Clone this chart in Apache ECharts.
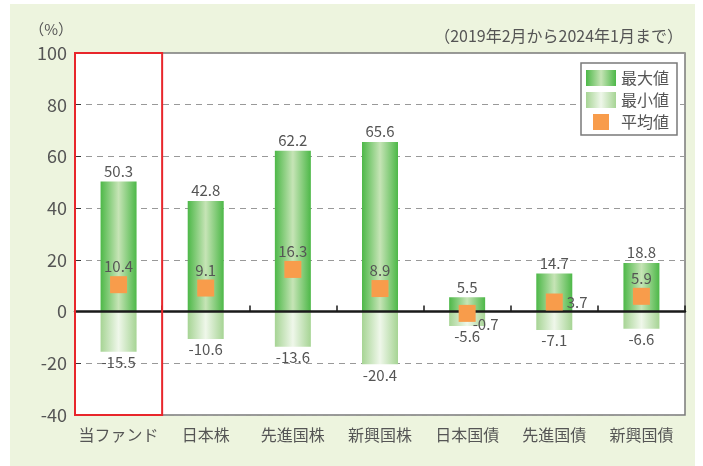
<!DOCTYPE html>
<html>
<head>
<meta charset="utf-8">
<script src="https://cdn.jsdelivr.net/npm/echarts@6/dist/echarts.min.js"></script>
<style>
html, body { margin: 0; padding: 0; background: #fff; }
#main { width: 703px; height: 466px; }
</style>
</head>
<body>
<div id="main"></div>
<script>
// 資産クラス
var categories = ["当ファンド", "日本株", "先進国株", "新興国株", "日本国債", "先進国債", "新興国債"];
// 騰落率（%）
var maxValues = [50.3, 42.8, 62.2, 65.6, 5.5, 14.7, 18.8];
var minValues = [-15.5, -10.6, -13.6, -20.4, -5.6, -7.1, -6.6];
var avgValues = [10.4, 9.1, 16.3, 8.9, -0.7, 3.7, 5.9];
var yTicks = [-40, -20, 0, 20, 40, 60, 80, 100];

var FONT = "'Noto Sans CJK JP', 'Noto Sans', sans-serif";
var TXT = '#555';

var chart = echarts.init(document.getElementById('main'));

// 最大値・最小値のグラデーション
var maxColor = new echarts.graphic.LinearGradient(0, 0, 1, 0, [
    { offset: 0, color: '#4db848' },
    { offset: 0.5, color: '#c6e4b6' },
    { offset: 1, color: '#4db848' }
]);
var minColor = new echarts.graphic.LinearGradient(0, 0, 1, 0, [
    { offset: 0, color: '#a6d494' },
    { offset: 0.5, color: '#eff7ea' },
    { offset: 1, color: '#a6d494' }
]);

// 平均値ラベルの位置（重なり回避）
var avgLabel = {
    4: { position: 'right', distance: -3, offset: [0, 11] },
    5: { position: 'right', distance: 4, offset: [0, 0] }
};
var avgData = avgValues.map(function (v, i) {
    var item = { value: [categories[i], v] };
    if (avgLabel[i]) item.label = avgLabel[i];
    return item;
});

var option = {
    backgroundColor: '#fff',
    textStyle: { fontFamily: FONT },
    animation: false,
    grid: {
        left: 75, right: 18, top: 53, bottom: 51,
        show: true,
        backgroundColor: '#fff',
        borderColor: '#7a7a7a',
        borderWidth: 1.5
    },
    legend: {
        orient: 'vertical',
        left: 581, top: 63,
        padding: [7, 8, 5, 5],
        itemWidth: 30, itemHeight: 16, itemGap: 6,
        backgroundColor: '#fff',
        borderColor: '#7a7a7a',
        borderWidth: 1.5,
        borderRadius: 0,
        selectedMode: false,
        textStyle: { fontSize: 16, color: TXT, fontFamily: FONT },
        data: [
            { name: '最大値', icon: 'rect' },
            { name: '最小値', icon: 'rect' },
            { name: '平均値', icon: 'path://M0,0M30,16M7,0h16v16h-16z' }
        ]
    },
    xAxis: [{
        type: 'category',
        data: categories,
        position: 'bottom',
        axisLine: { show: false, onZero: false },
        axisTick: { show: false },
        axisLabel: { color: TXT, fontSize: 16, margin: 12, interval: 0, fontFamily: FONT },
        splitLine: { show: false }
    }, {
        type: 'category',
        data: categories,
        position: 'bottom',
        z: 10,
        axisLine: { show: true, onZero: true, lineStyle: { color: '#1a1a1a', width: 2.5 } },
        axisTick: { show: true, inside: true, length: 6, interval: 0, lineStyle: { color: '#1a1a1a', width: 1.5 } },
        axisLabel: { show: false },
        splitLine: { show: false }
    }],
    yAxis: {
        type: 'value',
        min: yTicks[0], max: yTicks[yTicks.length - 1], interval: 20,
        name: '（%）',
        nameLocation: 'end',
        nameGap: 16,
        nameTextStyle: { color: TXT, fontSize: 15, align: 'right', padding: [0, 2, 0, 0] },
        axisLine: { show: false },
        axisTick: { show: true, inside: true, length: 6, lineStyle: { color: '#333' } },
        axisLabel: { color: TXT, fontSize: 18, margin: 8, fontFamily: FONT },
        splitLine: { show: true, lineStyle: { color: '#999', type: [6, 5], width: 1 } }
    },
    series: [{
        name: '最大値',
        type: 'bar',
        data: maxValues,
        barWidth: 36,
        barGap: '-100%',
        itemStyle: { color: maxColor },
        label: { show: true, position: 'top', distance: 3, color: TXT, fontSize: 15, fontFamily: FONT },
        z: 3
    }, {
        name: '最小値',
        type: 'bar',
        data: minValues,
        barWidth: 36,
        barGap: '-100%',
        itemStyle: { color: minColor },
        label: { show: true, position: 'bottom', distance: 3, color: TXT, fontSize: 15, fontFamily: FONT },
        z: 3
    }, {
        name: '平均値',
        type: 'scatter',
        data: avgData,
        symbol: 'rect',
        symbolSize: 17,
        itemStyle: { color: '#f89c4b', opacity: 1 },
        label: { show: true, position: 'top', distance: 2, color: TXT, fontSize: 15, fontFamily: FONT,
            formatter: function (p) { return p.value[1]; } },
        z: 12
    }],
    graphic: [{
        type: 'rect',
        silent: true,
        z: -10,
        shape: { x: 10, y: 4, width: 685, height: 462 },
        style: { fill: '#edf4de' }
    }, {
        type: 'text',
        right: 20, top: 28,
        style: { text: '（2019年2月から2024年1月まで）', fill: TXT, fontSize: 16, fontFamily: FONT }
    }]
};
chart.setOption(option);

// 当ファンドを赤枠で囲む
var cx = chart.convertToPixel({ xAxisIndex: 0 }, categories[0]);
var band = (703 - 18 - 75) / categories.length;
var yTop = chart.convertToPixel({ yAxisIndex: 0 }, yTicks[yTicks.length - 1]);
var yBot = chart.convertToPixel({ yAxisIndex: 0 }, yTicks[0]);
chart.setOption({
    graphic: [{}, {}, {
        type: 'rect',
        silent: true,
        z: 100,
        shape: { x: cx - band / 2, y: yTop, width: band, height: yBot - yTop },
        style: { fill: 'none', stroke: '#e8262b', lineWidth: 2 }
    }]
});
</script>
</body>
</html>
